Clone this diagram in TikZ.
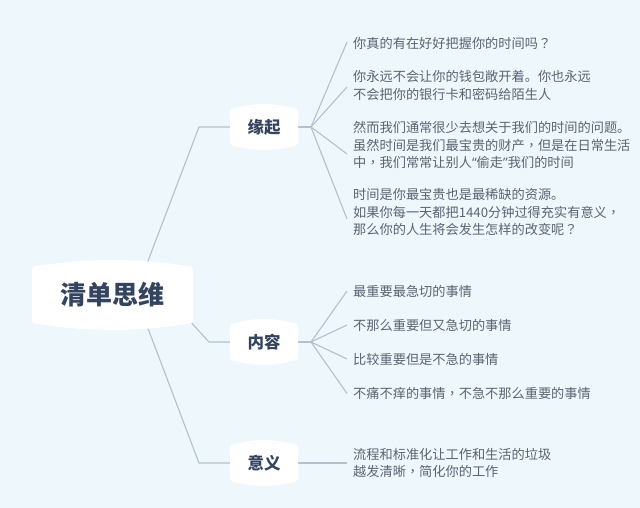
\documentclass[tikz,border=0pt]{standalone}
\usepackage{fontspec}
\setmainfont{Noto Sans CJK SC}
\newfontfamily\tcpunct{Noto Sans CJK TC}
\newfontfamily\latq{Noto Sans}
\newcommand\tcq{{\tcpunct ？}}
\newcommand\tcc{{\tcpunct ，}}
\newcommand\lqo{{\latq “}}
\newcommand\lqc{{\latq ”}}
\definecolor{bgc}{HTML}{EEF7FB}
\definecolor{connc}{HTML}{B3C0CF}
\definecolor{nodec}{HTML}{34435E}
\definecolor{leafc}{HTML}{5A6472}
\pgfdeclarelayer{edges}
\pgfsetlayers{edges,main}
\newcommand\mmcap[5]{%
\fill[white] (#1-#3,#2-#4+#5+6) .. controls (#1-#3,#2-#4+#5+1) and (#1-#3+1,#2-#4+#5) .. (#1-#3+6,#2-#4+#5)
 .. controls (#1-#3/3,#2-#4-#5/3) and (#1+#3/3,#2-#4-#5/3) .. (#1+#3-6,#2-#4+#5)
 .. controls (#1+#3-1,#2-#4+#5) and (#1+#3,#2-#4+#5+1) .. (#1+#3,#2-#4+#5+6)
 -- (#1+#3,#2+#4-#5-6)
 .. controls (#1+#3,#2+#4-#5-1) and (#1+#3-1,#2+#4-#5) .. (#1+#3-6,#2+#4-#5)
 .. controls (#1+#3/3,#2+#4+#5/3) and (#1-#3/3,#2+#4+#5/3) .. (#1-#3+6,#2+#4-#5)
 .. controls (#1-#3+1,#2+#4-#5) and (#1-#3,#2+#4-#5-1) .. (#1-#3,#2+#4-#5-6) -- cycle;}
\tikzset{
  rootlbl/.style={inner sep=0pt, minimum width=161pt, minimum height=60pt, text=nodec, font=\fontsize{26}{30}\selectfont\bfseries},
  toplbl/.style={inner sep=0pt, minimum width=68pt, minimum height=40pt, text=nodec, font=\fontsize{16.5}{20}\selectfont\bfseries},
  leaf/.style={anchor=west, inner xsep=6pt, inner ysep=0pt, align=left, text=leafc, font=\fontsize{13.2}{17.5}\selectfont},
  conn/.style={draw=connc, line width=1.1pt}
}
\begin{document}
\begin{tikzpicture}[x=1pt,y=-1pt]
\useasboundingbox (0,0) rectangle (640,508);
\begin{pgfonlayer}{edges}
\fill[bgc] (0,0) rectangle (640,508);
\end{pgfonlayer}
% shapes
\mmcap{112.5}{295}{80.5}{35}{6}
\mmcap{264}{127}{34}{23}{4}
\mmcap{264}{342}{34}{23}{4}
\mmcap{264}{463}{34}{23}{4}
% main nodes
\node[rootlbl] (root) at (112.5,295) {清单思维};
\node[toplbl] (yq) at (264,127) {缘起};
\node[toplbl] (nr) at (264,342) {内容};
\node[toplbl] (yy) at (264,463) {意义};
% leaves
\node[leaf] (a1) at (347,43) {你真的有在好好把握你的时间吗\tcq};
\node[leaf] (a2) at (347,85.5) {你永远不会让你的钱包敞开着。你也永远\\不会把你的银行卡和密码给陌生人};
\node[leaf] (a3) at (347,145) {然而我们通常很少去想关于我们的时间的问题。\\虽然时间是我们最宝贵的财产\tcc 但是在日常生活\\中\tcc 我们常常让别人\lqo 偷走\lqc 我们的时间};
\node[leaf] (a4) at (347,212) {时间是你最宝贵也是最稀缺的资源。\\如果你每一天都把1440分钟过得充实有意义\tcc\\那么你的人生将会发生怎样的改变呢\tcq};
\node[leaf] (b1) at (347,291) {最重要最急切的事情};
\node[leaf] (b2) at (347,325) {不那么重要但又急切的事情};
\node[leaf] (b3) at (347,359) {比较重要但是不急的事情};
\node[leaf] (b4) at (347,393.5) {不痛不痒的事情\tcc 不急不那么重要的事情};
\node[leaf] (c1) at (347,463) {流程和标准化让工作和生活的垃圾\\越发清晰\tcc 简化你的工作};
% connectors
\begin{pgfonlayer}{edges}
\coordinate (r1) at (140,282);
\coordinate (e1) at (199,127);
\coordinate (r2) at (178,308);
\coordinate (e2) at (209,342);
\coordinate (r3) at (141,310);
\coordinate (e3) at (199,463);
\coordinate (h1) at (311,127);
\coordinate (h2) at (311,342);
\draw[conn] (r1) -- (e1) -- (yq.west);
\draw[conn] (r2) -- (e2) -- (nr.west);
\draw[conn] (r3) -- (e3) -- (yy.west);
\draw[conn] (yq.east) -- (h1);
\draw[conn] (h1) -- ([yshift=1pt]a1.west);
\draw[conn] (h1) -- ([yshift=-1.5pt]a2.west);
\draw[conn] (h1) -- ([yshift=-9pt]a3.west);
\draw[conn] (h1) -- ([yshift=-7pt]a4.west);
\draw[conn] (nr.east) -- (h2);
\draw[conn] (h2) -- (b1.west);
\draw[conn] (h2) -- (b2.west);
\draw[conn] (h2) -- (b3.west);
\draw[conn] (h2) -- (b4.west);
\draw[conn] (yy.east) -- (c1.west);
\end{pgfonlayer}
\end{tikzpicture}
\end{document}
